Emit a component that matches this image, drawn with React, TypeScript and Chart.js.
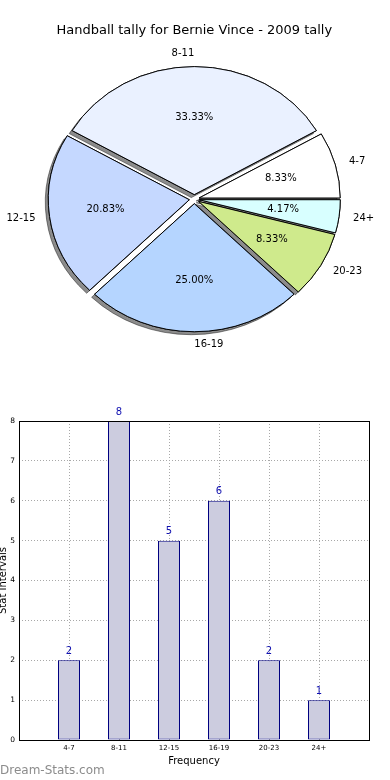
import React, { useEffect, useRef } from "react";
import { Chart, registerables } from "chart.js";

Chart.register(...registerables);

const FONT = "'DejaVu Sans', 'Liberation Sans', sans-serif";
Chart.defaults.font.family = FONT;
Chart.defaults.color = "#000";

// ---- data ----
const TITLE = "Handball tally for Bernie Vince - 2009 tally";
const CATEGORIES = ["4-7", "8-11", "12-15", "16-19", "20-23", "24+"];
const TALLY = [2, 8, 5, 6, 2, 1];
const SLICE_COLORS = ["#ffffff", "#eaf1ff", "#c5d8ff", "#b5d5ff", "#cfea8c", "#d8ffff"];
const Y_MIN = 0;
const Y_MAX = 8;
const X_AXIS_TITLE = "Frequency";
const Y_AXIS_TITLE = "Stat Intervals";
const WATERMARK = "Dream-Stats.com";

// ---- style constants ----
const EXPLODE = 5; // px explosion of each wedge
const Y_SQUASH = 0.908; // elliptical pie (non-equal axes)
const PIE_RADIUS = 141;

const piePlugin = {
  id: "ellipsePie",
  beforeDatasetsDraw(chart: any) {
    const ctx: CanvasRenderingContext2D = chart.ctx;
    const arcs = chart.getDatasetMeta(0).data;
    if (!arcs.length) return false;
    const cx = arcs[0].x;
    const cy = arcs[0].y;
    const pass = (shadow: boolean) => {
      arcs.forEach((el: any) => {
        const mid = (el.startAngle + el.endAngle) / 2;
        ctx.save();
        if (shadow) {
          ctx.shadowColor = "rgba(0,0,0,0.45)";
          ctx.shadowOffsetX = -3;
          ctx.shadowOffsetY = 3;
          ctx.shadowBlur = 0;
        }
        ctx.translate(cx, cy);
        ctx.scale(1, Y_SQUASH);
        ctx.translate(-cx, -cy);
        ctx.translate(Math.cos(mid) * EXPLODE, Math.sin(mid) * EXPLODE);
        el.draw(ctx);
        ctx.restore();
      });
    };
    pass(true);
    pass(false);
    return false;
  },
  afterDraw(chart: any) {
    const ctx: CanvasRenderingContext2D = chart.ctx;
    const meta = chart.getDatasetMeta(0);
    const ds = chart.data.datasets[0];
    const labels = chart.data.labels as string[];
    const values = ds.data as number[];
    const total = values.reduce((a, b) => a + b, 0);
    ctx.save();
    ctx.fillStyle = "#000";
    ctx.font = `10px ${FONT}`;
    ctx.textBaseline = "middle";
    meta.data.forEach((el: any, i: number) => {
      const mid = (el.startAngle + el.endAngle) / 2;
      const c = Math.cos(mid);
      const s = Math.sin(mid);
      const R = el.outerRadius;
      const cx = el.x;
      const cy = el.y;
      // outer label
      const rl = EXPLODE + 1.1 * R;
      const lx = cx + c * rl;
      const ly = cy + s * rl * Y_SQUASH;
      let align: CanvasTextAlign;
      if (Math.abs(c) < 1e-6) align = s < 0 ? "right" : "left";
      else align = c > 0 ? "left" : "right";
      ctx.textAlign = align;
      ctx.fillText(labels[i], lx, ly);
      // pct label
      const rp = EXPLODE + 0.6 * R;
      const px = cx + c * rp;
      const py = cy + s * rp * Y_SQUASH;
      ctx.textAlign = "center";
      ctx.fillText(((values[i] / total) * 100).toFixed(2) + "%", px, py);
    });
    ctx.restore();
  },
};

const barPlugin = {
  id: "barExtras",
  afterDraw(chart: any) {
    const ctx: CanvasRenderingContext2D = chart.ctx;
    const { left, top, right, bottom } = chart.chartArea;
    ctx.save();
    // frame
    ctx.setLineDash([]);
    ctx.strokeStyle = "#000";
    ctx.lineWidth = 1;
    ctx.strokeRect(Math.round(left) + 0.5, Math.round(top) + 0.5, Math.round(right - left), Math.round(bottom - top));
    // value labels
    const meta = chart.getDatasetMeta(0);
    const data = chart.data.datasets[0].data as any[];
    ctx.fillStyle = "#1010b0";
    ctx.font = `10px ${FONT}`;
    ctx.textAlign = "center";
    ctx.textBaseline = "middle";
    meta.data.forEach((el: any, i: number) => {
      ctx.fillText(String(data[i].y), el.x, el.y - 9);
    });
    ctx.restore();
  },
};

export default function App() {
  const pieRef = useRef<HTMLCanvasElement>(null);
  const barRef = useRef<HTMLCanvasElement>(null);

  useEffect(() => {
    const pieLabels = [...CATEGORIES].reverse();
    const pieValues = [...TALLY].reverse();
    const pieColors = [...SLICE_COLORS].reverse();

    const pie = new Chart(pieRef.current!, {
      type: "pie",
      data: {
        labels: pieLabels,
        datasets: [
          {
            data: pieValues,
            backgroundColor: pieColors,
            borderColor: "#000",
            borderWidth: 1,
            clip: false,
          } as any,
        ],
      },
      options: {
        animation: false,
        responsive: false,
        maintainAspectRatio: false,
        rotation: 90,
        radius: PIE_RADIUS,
        layout: { padding: { left: 0, right: 1.4, top: 0, bottom: 40.3 } },
        plugins: {
          legend: { display: false },
          tooltip: { enabled: false },
          title: {
            display: true,
            text: TITLE,
            color: "#000",
            font: { size: 13, weight: "normal", family: FONT, lineHeight: 1.2 },
            padding: { top: 23, bottom: 10 },
          },
        },
        events: [],
      } as any,
      plugins: [piePlugin],
    });

    const gridColor = (edgeA: number, edgeB: number) => (c: any) =>
      c.tick && (c.tick.value === edgeA || c.tick.value === edgeB) ? "rgba(0,0,0,0)" : "#a8a8a8";

    const bar = new Chart(barRef.current!, {
      type: "bar",
      data: {
        datasets: [
          {
            data: TALLY.map((v, i) => ({ x: i + 1, y: v })),
            backgroundColor: "#ccccdf",
            borderColor: "#000080",
            borderWidth: 1,
            borderSkipped: false,
            barPercentage: 0.44,
            categoryPercentage: 1,
          } as any,
        ],
      },
      options: {
        animation: false,
        responsive: false,
        maintainAspectRatio: false,
        events: [],
        layout: { padding: { top: 31, right: 21, left: 0, bottom: 0 } },
        plugins: { legend: { display: false }, tooltip: { enabled: false } },
        scales: {
          x: {
            type: "linear",
            min: 0,
            max: CATEGORIES.length + 1,
            offset: false,
            z: 1,
            ticks: {
              stepSize: 1,
              autoSkip: false,
              maxRotation: 0,
              padding: 3.5,
              color: "#000",
              font: { size: 7, family: FONT },
              callback: (v: any) => CATEGORIES[Number(v) - 1] ?? "",
            },
            grid: { offset: false, drawTicks: false, lineWidth: 1, color: gridColor(0, CATEGORIES.length + 1) },
            border: { display: false, dash: [1, 2] },
            title: {
              display: true,
              text: X_AXIS_TITLE,
              color: "#000",
              font: { size: 10, family: FONT },
              padding: { top: 0, bottom: 13 },
            },
            afterFit: (s: any) => {
              s.height = 40;
            },
          },
          y: {
            min: Y_MIN,
            max: Y_MAX,
            z: 1,
            ticks: { stepSize: 1, padding: 4, color: "#000", font: { size: 7.5, family: FONT } },
            grid: { drawTicks: false, lineWidth: 1, color: gridColor(Y_MIN, Y_MAX) },
            border: { display: false, dash: [1, 2] },
            title: {
              display: true,
              text: Y_AXIS_TITLE,
              color: "#000",
              font: { size: 10, family: FONT },
              padding: { top: -3, bottom: 0 },
            },
            afterFit: (s: any) => {
              s.width = 19;
            },
          },
        },
      } as any,
      plugins: [barPlugin],
    });

    return () => {
      pie.destroy();
      bar.destroy();
    };
  }, []);

  return (
    <div style={{ position: "absolute", left: 0, top: 0, width: 390, height: 780, background: "#fff", overflow: "hidden" }}>
      <canvas
        ref={pieRef}
        width={390}
        height={390}
        style={{ position: "absolute", left: 0, top: 0, width: 390, height: 390 }}
      />
      <canvas
        ref={barRef}
        width={390}
        height={390}
        style={{ position: "absolute", left: 0, top: 390, width: 390, height: 390 }}
      />
      <div
        style={{
          position: "absolute",
          left: 0,
          top: 762,
          font: `12px ${FONT}`,
          lineHeight: "16px",
          color: "#8c8c8c",
          whiteSpace: "nowrap",
        }}
      >
        {WATERMARK}
      </div>
    </div>
  );
}
